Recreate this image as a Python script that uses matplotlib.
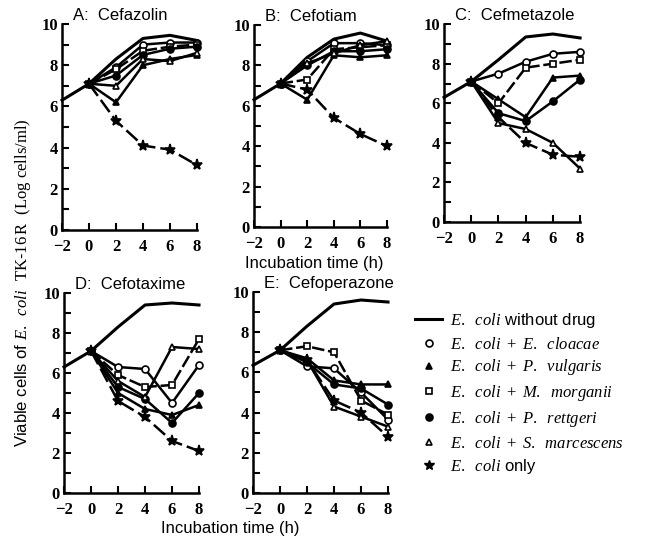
import matplotlib
matplotlib.use("Agg")
import matplotlib.pyplot as plt
from matplotlib.lines import Line2D
from matplotlib.ticker import MultipleLocator

plt.rcParams['mathtext.fontset'] = 'custom'
plt.rcParams['mathtext.it'] = 'Liberation Serif:italic'
plt.rcParams['mathtext.rm'] = 'Liberation Serif'

# time points (h)
t_ctrl = [-2, 0, 2, 4, 6, 8]
t_mix = [0, 2, 4, 6, 8]
start = 7.1

# E. coli without drug (same curve in each panel)
ctrl = {
    'A': [6.3, 7.1, 8.3, 9.3, 9.45, 9.2],
    'B': [6.3, 7.1, 8.4, 9.3, 9.6, 9.2],
    'C': [6.3, 7.1, 8.2, 9.35, 9.5, 9.3],
    'D': [6.3, 7.1, 8.3, 9.4, 9.5, 9.4],
    'E': [6.35, 7.1, 8.3, 9.4, 9.6, 9.5],
}

# values at 2, 4, 6, 8 h (0 h shared = start)
cloacae = {'A': [7.9, 9.0, 9.1, 9.1], 'B': [8.2, 9.1, 9.1, 9.0],
           'C': [7.5, 8.1, 8.5, 8.6], 'D': [6.3, 6.2, 4.5, 6.4],
           'E': [6.3, 6.2, 5.0, 3.65]}
vulgaris = {'A': [6.2, 8.0, 8.3, 8.5], 'B': [6.3, 8.5, 8.4, 8.5],
            'C': [6.2, 5.3, 7.3, 7.4], 'D': [5.0, 4.2, 3.9, 4.4],
            'E': [6.7, 5.6, 5.4, 5.4]}
morganii = {'A': [7.8, 8.7, 8.9, 9.0], 'B': [7.3, 8.8, 8.9, 9.0],
            'C': [6.0, 7.8, 8.0, 8.2], 'D': [5.9, 5.3, 5.4, 7.7],
            'E': [7.3, 7.0, 4.6, 3.9]}
rettgeri = {'A': [7.5, 8.5, 8.8, 8.9], 'B': [8.0, 8.7, 8.7, 8.8],
            'C': [5.5, 5.1, 6.1, 7.2], 'D': [5.3, 4.7, 3.5, 5.0],
            'E': [6.5, 5.4, 5.2, 4.4]}
marcescens = {'A': [7.0, 8.3, 8.2, 8.6], 'B': [8.1, 8.6, 9.0, 9.2],
              'C': [5.0, 4.7, 4.0, 2.7], 'D': [5.6, 4.8, 7.3, 7.2],
              'E': [6.6, 4.3, 3.8, 3.3]}
only = {'A': [5.3, 4.1, 3.9, 3.15], 'B': [6.8, 5.4, 4.6, 4.0],
        'C': [5.3, 4.0, 3.4, 3.3], 'D': [4.6, 3.8, 2.6, 2.1],
        'E': [6.6, 4.6, 4.0, 2.8]}

titles = {'A': 'A:  Cefazolin', 'B': 'B:  Cefotiam', 'C': 'C:  Cefmetazole',
          'D': 'D:  Cefotaxime', 'E': 'E:  Cefoperazone'}

# axes rectangles in figure fraction
rects = {
    'A': [0.0948, 0.5764, 0.2064, 0.3794],
    'B': [0.3884, 0.5820, 0.2034, 0.3720],
    'C': [0.6790, 0.5910, 0.2080, 0.3646],
    'D': [0.0979, 0.0921, 0.2064, 0.3683],
    'E': [0.3869, 0.0921, 0.2064, 0.3702],
}

series = [
    (cloacae, dict(marker='o', mfc='white', ls='-')),
    (vulgaris, dict(marker='^', mfc='black', ls='-')),
    (morganii, dict(marker='s', mfc='white', ls=(0, (5, 1.5)))),
    (rettgeri, dict(marker='o', mfc='black', ls='-')),
    (marcescens, dict(marker='^', mfc='white', ls='-')),
    (only, dict(marker='*', mfc='black', ls=(0, (6, 2)), ms=8)),
]

fig = plt.figure(figsize=(6.54, 5.43), dpi=100)

for key, rect in rects.items():
    ax = fig.add_axes(rect)
    ax.plot(t_ctrl, ctrl[key], color='black', lw=2.2, zorder=3)
    for data, style in series:
        st = dict(color='black', lw=1.8, ms=5, mec='black', mew=1.2, zorder=4)
        st.update(style)
        ax.plot(t_mix, [start] + data[key], **st)
    ax.set_xlim(-2, 8)
    ax.set_ylim(0, 10)
    ax.set_xticks([-2, 0, 2, 4, 6, 8])
    ax.set_xticklabels(['\u22122', '0', '2', '4', '6', '8'])
    ax.set_yticks([0, 2, 4, 6, 8, 10])
    ax.yaxis.set_minor_locator(MultipleLocator(1))
    ax.spines['top'].set_visible(False)
    ax.spines['right'].set_visible(False)
    for s in ('left', 'bottom'):
        ax.spines[s].set_linewidth(1.8)
    ax.tick_params(which='both', direction='in', width=1.5, length=5,
                   labelsize=12)
    ax.tick_params(axis='x', pad=6.5)
    ax.tick_params(axis='y', pad=3)
    for lab in ax.get_xticklabels() + ax.get_yticklabels():
        lab.set_family('Liberation Serif')
        lab.set_weight('bold')
    for ln in ax.lines:
        ln.set_clip_on(False)
    ax.text(0.08, 1.005, titles[key], transform=ax.transAxes,
            family='Liberation Sans', fontsize=12, va='bottom', ha='left')

fig.text(0.48, 0.515, 'Incubation time (h)', family='Liberation Sans',
         fontsize=12, ha='center', va='center')
fig.text(0.352, 0.026, 'Incubation time (h)', family='Liberation Sans',
         fontsize=12, ha='center', va='center')
fig.text(0.035, 0.48,
         r'Viable cells of $E.\ \ coli$  $\mathrm{TK}$-$\mathrm{16\,R}$  $\mathrm{(Log\ cells/ml)}$',
         family='Liberation Sans', fontsize=12, rotation=90,
         ha='center', va='center')

handles = [
    Line2D([], [], color='black', lw=2.2),
    Line2D([], [], color='black', ls='none', marker='o', mfc='white', ms=5, mew=1.2),
    Line2D([], [], color='black', ls='none', marker='^', mfc='black', ms=5, mew=1.2),
    Line2D([], [], color='black', ls='none', marker='s', mfc='white', ms=5, mew=1.2),
    Line2D([], [], color='black', ls='none', marker='o', mfc='black', ms=5, mew=1.2),
    Line2D([], [], color='black', ls='none', marker='^', mfc='white', ms=5, mew=1.2),
    Line2D([], [], color='black', ls='none', marker='*', mfc='black', ms=7),
]
labels = [
    r'$E.\ \ coli$ without drug',
    r'$E.\ \ coli\ +\ E.\ \ cloacae$',
    r'$E.\ \ coli\ +\ P.\ \ vulgaris$',
    r'$E.\ \ coli\ +\ M.\ \ morganii$',
    r'$E.\ \ coli\ +\ P.\ \ rettgeri$',
    r'$E.\ \ coli\ +\ S.\ \ marcescens$',
    r'$E.\ \ coli$ only',
]
fig.legend(handles, labels, loc='upper left', bbox_to_anchor=(0.625, 0.44),
           frameon=False, handlelength=1.6, handletextpad=0.5,
           labelspacing=0.35, borderaxespad=0,
           prop={'family': 'Liberation Sans', 'size': 12})

fig.savefig('out.png', dpi=100)
